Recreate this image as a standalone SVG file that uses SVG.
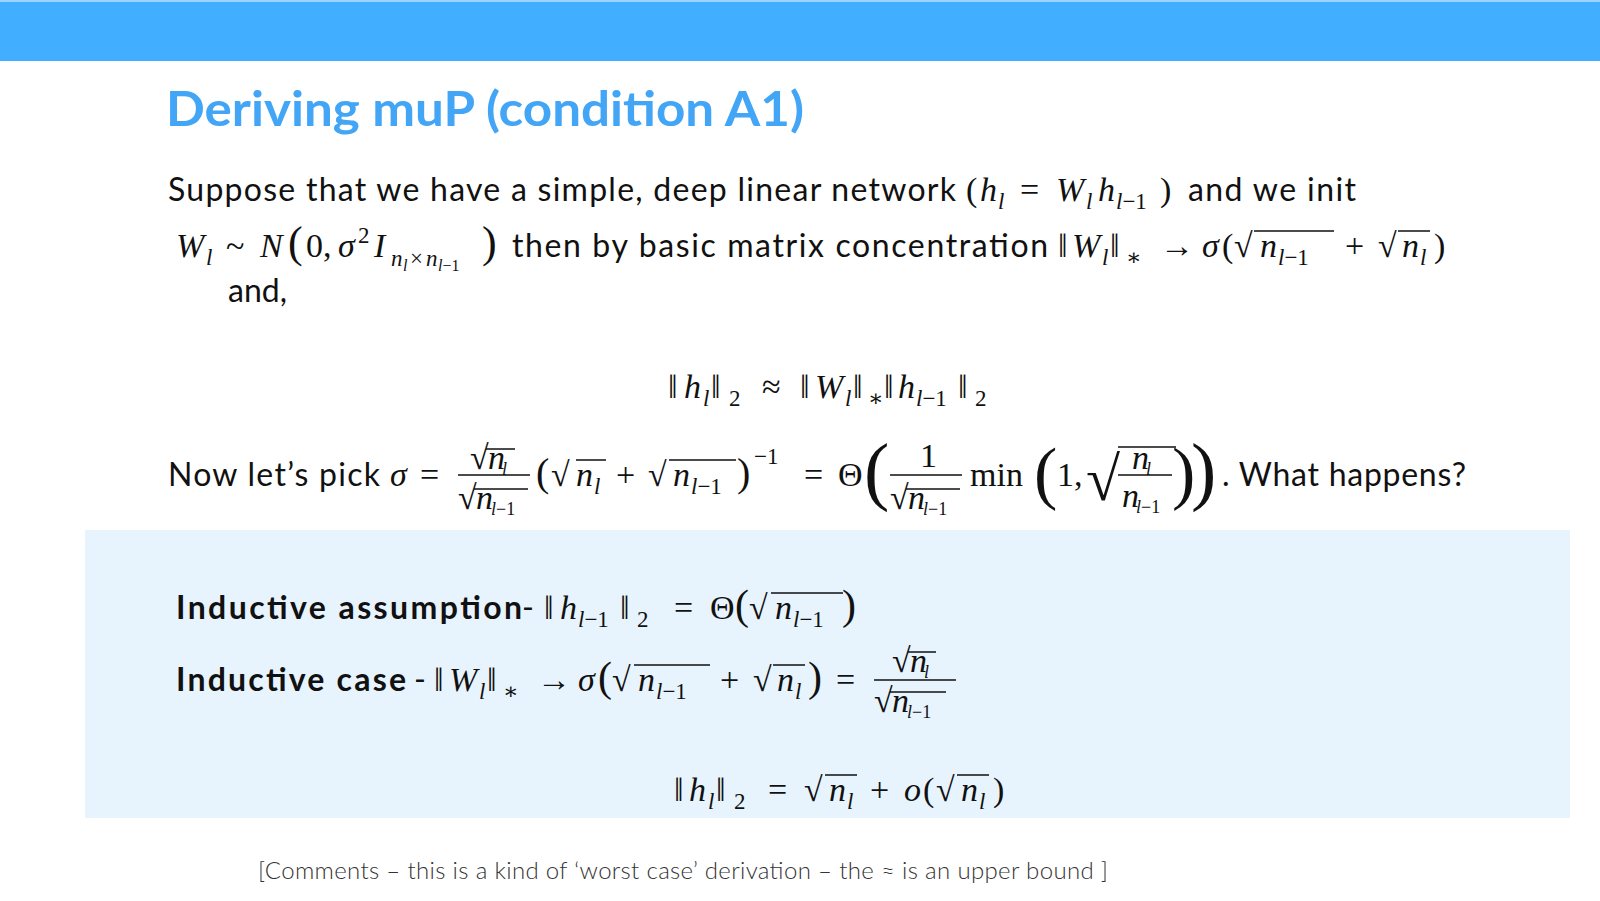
<svg xmlns="http://www.w3.org/2000/svg" width="1600" height="901" viewBox="0 0 1600 901">
<style>
.t{font-family:Lato,"Open Sans",sans-serif;font-size:32px;fill:#111}
.b{font-weight:bold}
.m{font-family:"Liberation Serif","DejaVu Serif",serif;font-size:34px;fill:#111}
.i{font-style:italic}
.s{font-size:23px}
.bar{stroke:#111;stroke-width:1.6;fill:none}
</style>
<rect x="0" y="0" width="1600" height="901" fill="#fff"/>
<rect x="0" y="0" width="1600" height="61" fill="#42AEFF"/>
<rect x="0" y="0" width="1600" height="2" fill="#9CD3FF"/>
<text x="166" y="126" font-family="Lato,'Open Sans',sans-serif" font-size="48" font-weight="bold" fill="#42A5F5" textLength="638" lengthAdjust="spacingAndGlyphs">Deriving muP (condition A1)</text>
<rect x="85" y="530" width="1485" height="288" fill="#E8F4FD"/>

<!-- line 1 -->
<text class="t" x="168" y="201" textLength="788" lengthAdjust="spacing">Suppose that we have a simple, deep linear network</text>
<text class="m" y="201"><tspan x="966">(</tspan><tspan class="i" x="980">h</tspan><tspan class="i s" x="998" dy="8">l</tspan><tspan x="1020" dy="-8">=</tspan><tspan class="i" x="1056">W</tspan><tspan class="i s" x="1086" dy="8">l</tspan><tspan class="i" x="1098" dy="-8">h</tspan><tspan class="s" x="1116" dy="8"><tspan class="i">l</tspan>−1</tspan><tspan x="1160" dy="-8">)</tspan></text>
<text class="t" x="1188" y="201" textLength="168" lengthAdjust="spacing">and we init</text>

<!-- line 2 -->
<text class="m" y="257"><tspan class="i" x="176">W</tspan><tspan class="i s" x="206" dy="8">l</tspan><tspan x="226" dy="-8">~</tspan><tspan class="i" x="260">N</tspan><tspan x="288" font-size="44">(</tspan><tspan x="306">0,</tspan><tspan class="i" x="338">σ</tspan><tspan class="s" x="358" dy="-14">2</tspan><tspan class="i" x="374" dy="14">I</tspan><tspan class="s i" x="391" dy="9">n</tspan><tspan class="i" x="403" font-size="16" dy="5">l</tspan><tspan class="s" x="410" dy="-5">×</tspan><tspan class="s i" x="426">n</tspan><tspan font-size="16" x="438" dy="5"><tspan class="i">l</tspan>−1</tspan><tspan x="482" dy="-14" font-size="44">)</tspan></text>
<text class="t" x="512" y="257" textLength="536" lengthAdjust="spacing">then by basic matrix concentration</text>
<text class="m" y="257"><tspan x="1058">‖</tspan><tspan class="i" x="1072">W</tspan><tspan class="i s" x="1102" dy="8">l</tspan><tspan x="1110" dy="-8">‖</tspan><tspan class="s" x="1126" dy="8">∗</tspan><tspan x="1160" dy="-8">→</tspan><tspan class="i" x="1202">σ</tspan><tspan x="1222">(</tspan><tspan x="1234">√</tspan><tspan class="i" x="1260">n</tspan><tspan class="s" x="1278" dy="8"><tspan class="i">l</tspan>−1</tspan><tspan x="1345" dy="-8">+</tspan><tspan x="1378">√</tspan><tspan class="i" x="1402">n</tspan><tspan class="i s" x="1420" dy="8">l</tspan><tspan x="1434" dy="-8">)</tspan></text>
<path class="bar" d="M1254 231H1334M1398 231H1430"/>
<text class="t" x="228" y="302">and,</text>

<!-- center equation -->
<text class="m" y="398"><tspan x="668">‖</tspan><tspan class="i" x="684">h</tspan><tspan class="i s" x="703" dy="8">l</tspan><tspan x="711" dy="-8">‖</tspan><tspan class="s" x="729" dy="8">2</tspan><tspan x="762" dy="-8">≈</tspan><tspan x="800">‖</tspan><tspan class="i" x="815">W</tspan><tspan class="i s" x="845" dy="8">l</tspan><tspan x="853" dy="-8">‖</tspan><tspan class="s" x="868" dy="8">∗</tspan><tspan x="884" dy="-8">‖</tspan><tspan class="i" x="898">h</tspan><tspan class="s" x="916" dy="8"><tspan class="i">l</tspan>−1</tspan><tspan x="958" dy="-8">‖</tspan><tspan class="s" x="975" dy="8">2</tspan></text>

<!-- now let's pick -->
<text class="t" x="168" y="486" textLength="212" lengthAdjust="spacing">Now let’s pick</text>
<text class="m" y="486"><tspan class="i" x="390">σ</tspan><tspan x="420">=</tspan></text>
<path class="bar" d="M458 475H530M890 475H962M1118 475H1172"/>
<text class="m" font-size="26"><tspan x="470" y="469">√</tspan><tspan class="i" x="488" y="469">n</tspan><tspan class="i" font-size="18" x="502" y="475">l</tspan><tspan x="458" y="509">√</tspan><tspan class="i" x="476" y="509">n</tspan><tspan font-size="18" x="491" y="515"><tspan class="i">l</tspan>−1</tspan></text>
<path class="bar" d="M486 449H515M474 489H528" stroke-width="1.3"/>
<text class="m" y="486"><tspan x="536" font-size="40">(</tspan><tspan x="551">√</tspan><tspan class="i" x="576">n</tspan><tspan class="i s" x="594" dy="8">l</tspan><tspan x="616" dy="-8">+</tspan><tspan x="648">√</tspan><tspan class="i" x="673">n</tspan><tspan class="s" x="691" dy="8"><tspan class="i">l</tspan>−1</tspan><tspan x="737" dy="-8" font-size="40">)</tspan><tspan class="s" x="754" dy="-22">−1</tspan><tspan x="804" dy="22">=</tspan><tspan x="838">Θ</tspan><tspan x="864" font-size="76" dy="10">(</tspan><tspan x="970" dy="-10">min</tspan><tspan x="1034" font-size="70" dy="10">(</tspan><tspan x="1057" dy="-10">1,</tspan><tspan x="1086" font-size="62" dy="14">√</tspan><tspan x="1172" font-size="70" dy="-4">)</tspan><tspan x="1191" font-size="76">)</tspan></text>
<path class="bar" d="M576 460H606M669 460H736M1118 447H1176"/>
<text class="m" font-size="26"><tspan x="920" y="467">1</tspan><tspan x="890" y="509">√</tspan><tspan class="i" x="908" y="509">n</tspan><tspan font-size="18" x="923" y="515"><tspan class="i">l</tspan>−1</tspan><tspan class="i" x="1132" y="469">n</tspan><tspan class="i" font-size="18" x="1146" y="475">l</tspan><tspan class="i" x="1122" y="507">n</tspan><tspan font-size="18" x="1136" y="513"><tspan class="i">l</tspan>−1</tspan></text>
<path class="bar" d="M906 489H960" stroke-width="1.3"/>
<text class="t" x="1222" y="486" textLength="244" lengthAdjust="spacing">. What happens?</text>

<!-- box content -->
<text class="t" y="619"><tspan class="b" x="176" textLength="346" lengthAdjust="spacing">Inductive assumption</tspan><tspan x="522">-</tspan></text>
<text class="m" y="619"><tspan x="544">‖</tspan><tspan class="i" x="560">h</tspan><tspan class="s" x="578" dy="8"><tspan class="i">l</tspan>−1</tspan><tspan x="620" dy="-8">‖</tspan><tspan class="s" x="637" dy="8">2</tspan><tspan x="674" dy="-8">=</tspan><tspan x="710">Θ</tspan><tspan x="735" font-size="42">(</tspan><tspan x="749">√</tspan><tspan class="i" x="775">n</tspan><tspan class="s" x="793" dy="8"><tspan class="i">l</tspan>−1</tspan><tspan x="842" dy="-8" font-size="42">)</tspan></text>
<path class="bar" d="M771 593H843"/>

<text class="t" y="691"><tspan class="b" x="176" textLength="230" lengthAdjust="spacing">Inductive case</tspan><tspan x="414">-</tspan></text>
<text class="m" y="691"><tspan x="434">‖</tspan><tspan class="i" x="449">W</tspan><tspan class="i s" x="479" dy="8">l</tspan><tspan x="487" dy="-8">‖</tspan><tspan class="s" x="503" dy="8">∗</tspan><tspan x="537" dy="-8">→</tspan><tspan class="i" x="578">σ</tspan><tspan x="598" font-size="42">(</tspan><tspan x="612">√</tspan><tspan class="i" x="638">n</tspan><tspan class="s" x="656" dy="8"><tspan class="i">l</tspan>−1</tspan><tspan x="720" dy="-8">+</tspan><tspan x="753">√</tspan><tspan class="i" x="777">n</tspan><tspan class="i s" x="795" dy="8">l</tspan><tspan x="808" dy="-8" font-size="42">)</tspan><tspan x="836">=</tspan></text>
<path class="bar" d="M634 665H710M773 665H805M874 680H956"/>
<text class="m" font-size="26"><tspan x="892" y="672">√</tspan><tspan class="i" x="910" y="672">n</tspan><tspan class="i" font-size="18" x="924" y="678">l</tspan><tspan x="874" y="712">√</tspan><tspan class="i" x="892" y="712">n</tspan><tspan font-size="18" x="907" y="718"><tspan class="i">l</tspan>−1</tspan></text>
<path class="bar" d="M908 652H936M890 692H946" stroke-width="1.3"/>

<text class="m" y="801"><tspan x="674">‖</tspan><tspan class="i" x="689">h</tspan><tspan class="i s" x="708" dy="8">l</tspan><tspan x="716" dy="-8">‖</tspan><tspan class="s" x="734" dy="8">2</tspan><tspan x="768" dy="-8">=</tspan><tspan x="804">√</tspan><tspan class="i" x="829">n</tspan><tspan class="i s" x="847" dy="8">l</tspan><tspan x="870" dy="-8">+</tspan><tspan class="i" x="904">o</tspan><tspan x="923">(</tspan><tspan x="936">√</tspan><tspan class="i" x="961">n</tspan><tspan class="i s" x="979" dy="8">l</tspan><tspan x="993" dy="-8">)</tspan></text>
<path class="bar" d="M825 775H857M957 775H989"/>

<text x="258" y="879" font-family="Lato,'Open Sans',sans-serif" font-weight="300" font-size="24" fill="#333" textLength="850" lengthAdjust="spacing">[Comments – this is a kind of ‘worst case’ derivation – the ≈ is an upper bound ]</text>
</svg>
